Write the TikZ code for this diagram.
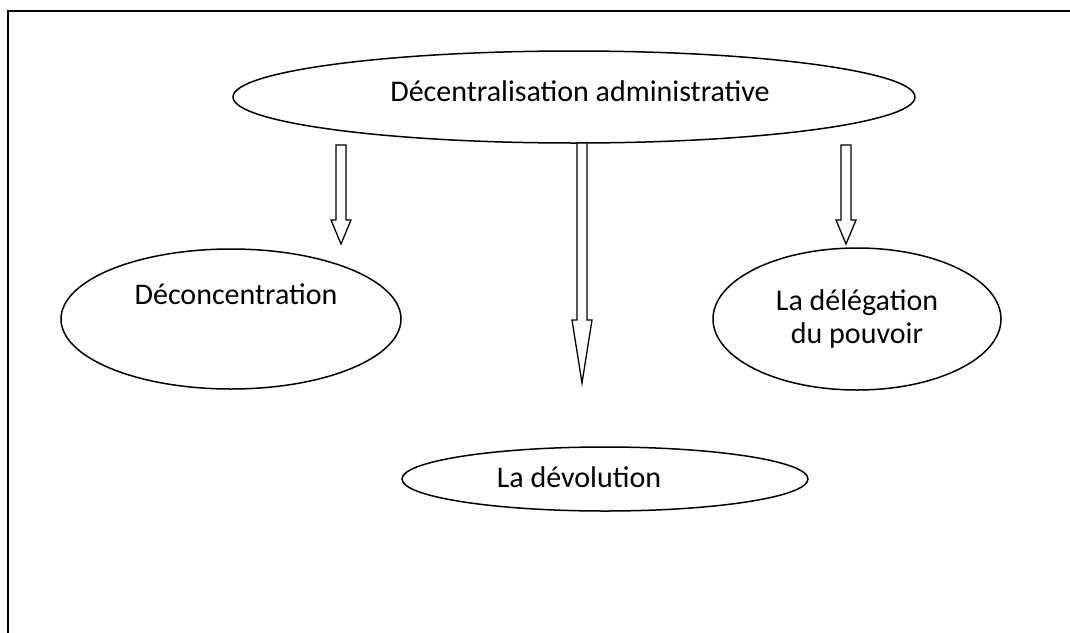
\documentclass[tikz,border=0pt]{standalone}
\usepackage{fontspec}
\setmainfont{Carlito}
\usetikzlibrary{shapes.geometric}
\newcommand\blockarrow[4]{% x, top, neck, tip
  \draw[barrow] ({#1-5},#2) -- ({#1+5},#2) -- ({#1+5},#3) -- ({#1+10},#3) -- (#1,#4)
    -- ({#1-10},#3) -- ({#1-5},#3) -- cycle;}
\begin{document}
\begin{tikzpicture}[x=1pt,y=-1pt,
  oval/.style={draw, line width=1.5pt, ellipse, inner sep=0pt},
  lbl/.style={font=\fontsize{30}{33}\selectfont, align=center, inner sep=0pt},
  barrow/.style={draw, line width=1.3pt, fill=white, line join=miter}]
\useasboundingbox (0,0) rectangle (1070,632);
\fill[white] (0,0) rectangle (1070,632);
\draw[line width=2.5pt] (8,640) -- (8,11) -- (1080,11);
% ovals
\node[oval, minimum width=682pt, minimum height=92pt] (top) at (574,97) {};
\node[oval, minimum width=340pt, minimum height=140pt] (left) at (231,319) {};
\node[oval, minimum width=288pt, minimum height=142pt] (right) at (857,319) {};
\node[oval, minimum width=406pt, minimum height=64pt] (bottom) at (605,479) {};
% labels
\node[lbl] (ttop) at (580,91) {Décentralisation administrative};
\node[lbl] (tleft) at (236,294) {Déconcentration};
\node[lbl] (tright) at (857,319) {La délégation\\du pouvoir};
\node[lbl] (tbottom) at (579,477) {La dévolution};
% block arrows
\blockarrow{341}{145}{220}{244}
\blockarrow{582}{143}{320}{383}
\blockarrow{846}{145}{220}{244}
\end{tikzpicture}
\end{document}
